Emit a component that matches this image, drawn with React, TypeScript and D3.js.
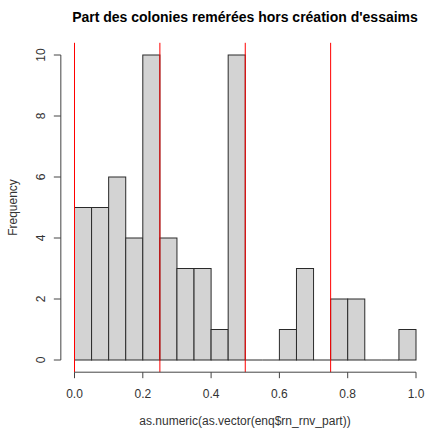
import React from "react";
import * as d3 from "d3";

const binStarts = [0, 0.05, 0.1, 0.15, 0.2, 0.25, 0.3, 0.35, 0.4, 0.45, 0.5, 0.55, 0.6, 0.65, 0.7, 0.75, 0.8, 0.85, 0.9, 0.95];
const counts = [5, 5, 6, 4, 10, 4, 3, 3, 1, 10, 0, 0, 1, 3, 0, 2, 2, 0, 0, 1];
const binWidth = 0.05;
const xTicks = [0, 0.2, 0.4, 0.6, 0.8, 1.0];
const yTicks = [0, 2, 4, 6, 8, 10];
const redLines = [0, 0.25, 0.5, 0.75];
const title = "Part des colonies remérées hors création d'essaims";
const xLabel = "as.numeric(as.vector(enq$rn_rnv_part))";
const yLabel = "Frequency";

export default function App() {
  const W = 425, H = 429;
  const x = d3.scaleLinear().domain([0, 1]).range([74.5, 416]);
  const y = d3.scaleLinear().domain([0, 10]).range([360, 55]);
  const plotTop = y(10.4);
  const plotBottom = y(-0.4);
  const plotLeft = x(-0.04);
  const font = "'Liberation Sans', Arial, sans-serif";
  const axisColor = "#444";
  return (
    <svg width={W} height={H} style={{ position: "absolute", left: 0, top: 0, background: "#fff" }} fontFamily={font}>
      <text x={245} y={22} textAnchor="middle" fontWeight="bold" fontSize={14} fill="#000">{title}</text>
      {binStarts.map((s, i) =>
        counts[i] > 0 ? (
          <rect key={i} x={x(s)} y={y(counts[i])} width={x(s + binWidth) - x(s)} height={y(0) - y(counts[i])}
            fill="#d3d3d3" stroke="#2a2a2a" strokeWidth={1} />
        ) : (
          <line key={i} x1={x(s)} x2={x(s + binWidth)} y1={y(0)} y2={y(0)} stroke="#2a2a2a" strokeWidth={1} />
        )
      )}
      {redLines.map((v, i) => (
        <line key={i} x1={x(v)} x2={x(v)} y1={plotTop} y2={plotBottom} stroke="#ff0000" strokeWidth={1} />
      ))}
      <line x1={x(0)} x2={x(1)} y1={plotBottom} y2={plotBottom} stroke={axisColor} />
      {xTicks.map((t, i) => (
        <g key={i}>
          <line x1={x(t)} x2={x(t)} y1={plotBottom} y2={plotBottom + 6} stroke={axisColor} />
          <text x={x(t)} y={plotBottom + 26} textAnchor="middle" fontSize={12} fill="#333">{t.toFixed(1)}</text>
        </g>
      ))}
      <line x1={plotLeft} x2={plotLeft} y1={y(0)} y2={y(10)} stroke={axisColor} />
      {yTicks.map((t, i) => (
        <g key={i}>
          <line x1={plotLeft} x2={plotLeft - 7} y1={y(t)} y2={y(t)} stroke={axisColor} />
          <text transform={`translate(${plotLeft - 16},${y(t)}) rotate(-90)`} textAnchor="middle" fontSize={12} fill="#333">{t}</text>
        </g>
      ))}
      <text x={245} y={425} textAnchor="middle" fontSize={12} fill="#333">{xLabel}</text>
      <text transform={`translate(17,${(plotTop + plotBottom) / 2}) rotate(-90)`} textAnchor="middle" fontSize={12} fill="#333">{yLabel}</text>
    </svg>
  );
}
